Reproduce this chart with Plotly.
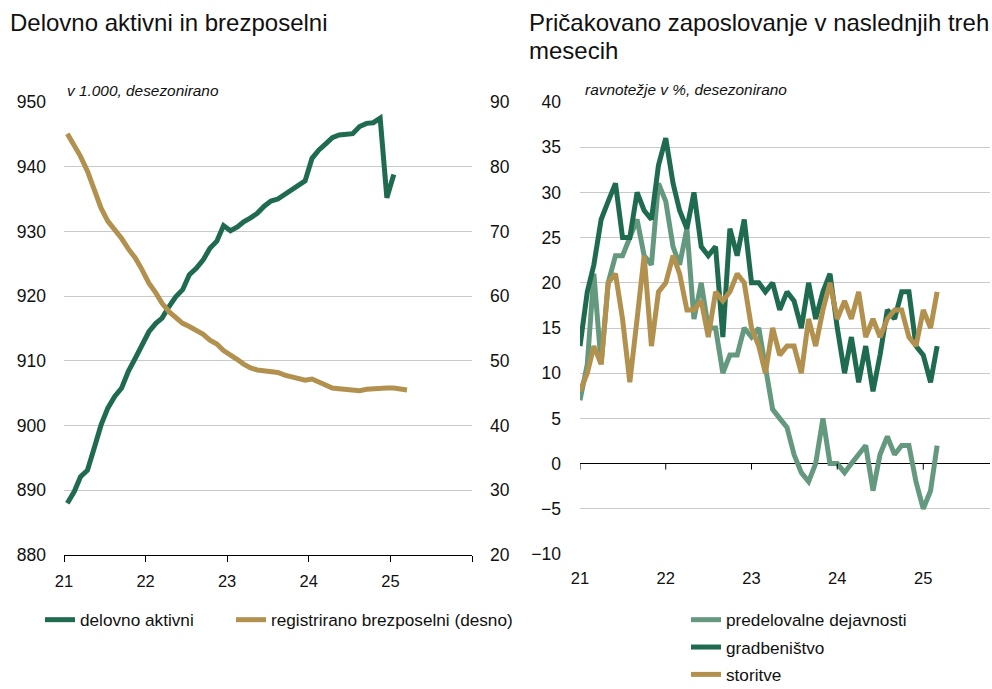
import pandas as pd
import plotly.graph_objects as go

# ---------------- data ----------------
# Left chart: monthly, Jan 2021 onwards (thousands / right axis thousands)
delovno_aktivni = [888.0, 889.8, 892.1, 893.1, 896.5, 900.1, 902.7, 904.5, 905.8, 908.4,
                   910.4, 912.5, 914.5, 915.8, 916.6, 918.4, 919.9, 921.0, 923.3, 924.3,
                   925.6, 927.4, 928.5, 930.9, 930.1, 930.7, 931.5, 932.1, 932.8, 933.9,
                   934.7, 935.0, 935.7, 936.3, 937.0, 937.8, 941.3, 942.6, 943.5, 944.5,
                   944.9, 945.1, 945.1, 946.2, 946.7, 946.8, 947.5, 935.2, 938.8]
brezposelni = [85.1, 83.4, 81.6, 79.3, 76.4, 73.6, 71.6, 70.3, 68.9, 67.3,
               65.9, 64.1, 62.0, 60.5, 58.9, 57.6, 56.6, 55.8, 55.3, 54.8,
               54.1, 53.2, 52.6, 51.6, 51.0, 50.2, 49.5, 48.9, 48.6, 48.5,
               48.4, 48.2, 47.8, 47.5, 47.2, 47.0, 47.2, 46.7, 46.2, 45.8,
               45.7, 45.6, 45.5, 45.4, 45.6, 45.7, 45.8, 45.8, 45.8, 45.6, 45.5]

# Right chart: balances in %, monthly from Jan 2021
predelovalne = [7, 11, 21, 11, 20, 23, 23, 25, 27, 23, 22, 31, 29, 24, 22, 26, 16, 20, 15, 15,
                10, 12, 12, 15, 14, 15, 11, 6, 5, 4, 1, -1, -2, 0, 5, 0, 0, -1, 0, 1,
                2, -3, 1, 3, 1, 2, 2, -2, -5, -3, 2]
gradbenistvo = [13, 19, 22, 27, 29, 31, 25, 25, 30, 28, 27, 33, 36, 31, 28, 26, 30, 24, 23, 24,
                14, 26, 23, 27, 20, 20, 19, 20, 17, 19, 18, 15, 20, 16, 19, 21, 15, 10, 14, 9,
                13, 8, 12, 17, 16, 19, 19, 13, 12, 9, 13]
storitve = [8, 10, 13, 11, 20, 21, 16, 9, 16, 23, 13, 19, 20, 23, 21, 17, 17, 18, 14, 19,
            18, 19, 21, 20, 15, 13, 10, 15, 12, 13, 13, 10, 16, 13, 17, 20, 16, 18, 16, 19,
            14, 16, 14, 16, 17, 17, 14, 13, 17, 15, 19]

year_ticks = ["2021-01-01", "2022-01-01", "2023-01-01", "2024-01-01", "2025-01-01", "2026-01-01"]
year_labels = ["21", "22", "23", "24", "25", ""]

left_title = "Delovno aktivni in brezposelni"
right_title_1 = "Pričakovano zaposlovanje v naslednjih treh"
right_title_2 = "mesecih"
left_sub = "v 1.000, desezonirano"
right_sub = "ravnotežje v %, desezonirano"

# ---------------- styling ----------------
DARK = "#1F6B4F"
GOLD = "#B2914E"
LIGHT = "#64997F"
GRID = "#C9C9C9"
FONT = "Liberation Sans, Arial, sans-serif"
TXT = "#111111"
W, H = 992, 689
LW = 5

x_left_a = pd.date_range("2021-01-01", periods=len(delovno_aktivni), freq="MS") + pd.Timedelta(days=15)
x_left_b = pd.date_range("2021-01-01", periods=len(brezposelni), freq="MS") + pd.Timedelta(days=15)
x_right = pd.date_range("2021-01-01", periods=len(predelovalne), freq="MS")

fig = go.Figure()

fig.add_trace(go.Scatter(x=x_left_a, y=delovno_aktivni, name="delovno aktivni",
                         mode="lines", line=dict(color=DARK, width=LW),
                         xaxis="x", yaxis="y", legend="legend", legendwidth=146))
fig.add_trace(go.Scatter(x=x_left_b, y=brezposelni, name="registrirano brezposelni (desno)",
                         mode="lines", line=dict(color=GOLD, width=LW),
                         xaxis="x", yaxis="y3", legend="legend"))

fig.add_trace(go.Scatter(x=x_right, y=predelovalne, name="predelovalne dejavnosti",
                         mode="lines", line=dict(color=LIGHT, width=LW),
                         xaxis="x2", yaxis="y2", legend="legend2", legendgroup="a"))
fig.add_trace(go.Scatter(x=x_right, y=gradbenistvo, name="gradbeništvo",
                         mode="lines", line=dict(color=DARK, width=LW),
                         xaxis="x2", yaxis="y2", legend="legend2", legendgroup="b"))
fig.add_trace(go.Scatter(x=x_right, y=storitve, name="storitve",
                         mode="lines", line=dict(color=GOLD, width=LW),
                         xaxis="x2", yaxis="y2", legend="legend2", legendgroup="c"))


def px(v):
    return v / W


def py(v):
    return 1 - v / H


ydom = [py(555), py(102)]
ydom2 = [py(554), py(102)]
tickfont_y = dict(family=FONT, size=17.5, color=TXT)
tickfont_x = dict(family=FONT, size=16.5, color=TXT)

fig.update_layout(
    template="none",
    width=W, height=H,
    margin=dict(l=0, r=0, t=0, b=0, autoexpand=False),
    paper_bgcolor="white", plot_bgcolor="white",
    font=dict(family=FONT, color=TXT),
    xaxis=dict(domain=[px(64), px(472)], type="date",
               range=["2021-01-01", "2026-01-01"],
               tickvals=year_ticks, ticktext=year_labels,
               showgrid=False, zeroline=False,
               showline=True, linecolor="black", linewidth=1,
               ticks="outside", ticklen=6, tickcolor="black", tickwidth=1,
               tickfont=tickfont_x, ticklabelstandoff=5,
               anchor="y", automargin=False),
    yaxis=dict(domain=ydom, range=[880, 950], dtick=10, tick0=880,
               showgrid=True, gridcolor=GRID, gridwidth=1, zeroline=False,
               showline=False, ticks="", tickfont=tickfont_y,
               ticklabelstandoff=17, anchor="x", automargin=False),
    yaxis3=dict(overlaying="y", side="right", range=[20, 90], dtick=10, tick0=20,
                showgrid=False, zeroline=False, showline=False, ticks="",
                tickfont=tickfont_y, ticklabelstandoff=17, anchor="x",
                automargin=False),
    xaxis2=dict(domain=[px(580), px(990)], type="date",
                range=["2021-01-01", "2025-10-12"],
                tickvals=year_ticks[:5], ticktext=year_labels[:5],
                showgrid=False, zeroline=False, showline=False, ticks="",
                tickfont=tickfont_x, ticklabelstandoff=12,
                anchor="y2", automargin=False),
    yaxis2=dict(domain=ydom2, range=[-10, 40], dtick=5, tick0=-10,
                showgrid=True, gridcolor=GRID, gridwidth=1,
                zeroline=True, zerolinecolor="black", zerolinewidth=1,
                showline=False, ticks="", tickfont=tickfont_y,
                ticklabelstandoff=18, anchor="x2", automargin=False),
    legend=dict(orientation="h", x=px(40), y=py(620), xanchor="left", yanchor="middle",
                font=dict(family=FONT, size=17.2, color=TXT),
                bgcolor="rgba(0,0,0,0)", itemwidth=30, traceorder="normal"),
    legend2=dict(orientation="v", x=px(686), y=py(602), xanchor="left", yanchor="top",
                 font=dict(family=FONT, size=17.2, color=TXT),
                 bgcolor="rgba(0,0,0,0)", itemwidth=30, tracegroupgap=2,
                 traceorder="grouped"),
    showlegend=True,
)

# tick marks on the zero line of the right chart
for d in year_ticks[:5]:
    fig.add_shape(type="line", xref="x2", yref="y2", x0=d, x1=d,
                  ysizemode="pixel", yanchor=0, y0=0, y1=-6,
                  line=dict(color="black", width=1))

# titles and subtitles
TITLE_SIZE = 24
fig.add_annotation(text=left_title, xref="paper", yref="paper", x=px(8), y=py(22),
                   xanchor="left", yanchor="middle", showarrow=False,
                   font=dict(family=FONT, size=TITLE_SIZE, color=TXT))
fig.add_annotation(text=right_title_1, xref="paper", yref="paper", x=px(527), y=py(22),
                   xanchor="left", yanchor="middle", showarrow=False,
                   font=dict(family=FONT, size=TITLE_SIZE, color=TXT))
fig.add_annotation(text=right_title_2, xref="paper", yref="paper", x=px(527), y=py(50),
                   xanchor="left", yanchor="middle", showarrow=False,
                   font=dict(family=FONT, size=TITLE_SIZE, color=TXT))
fig.add_annotation(text="<i>" + left_sub + "</i>", xref="paper", yref="paper", x=px(65), y=py(90),
                   xanchor="left", yanchor="middle", showarrow=False,
                   font=dict(family=FONT, size=15.4, color=TXT))
fig.add_annotation(text="<i>" + right_sub + "</i>", xref="paper", yref="paper", x=px(583), y=py(89),
                   xanchor="left", yanchor="middle", showarrow=False,
                   font=dict(family=FONT, size=15.4, color=TXT))

fig.write_html("out.html", config={"displayModeBar": False},
               post_script="document.body.style.margin='0px';")
